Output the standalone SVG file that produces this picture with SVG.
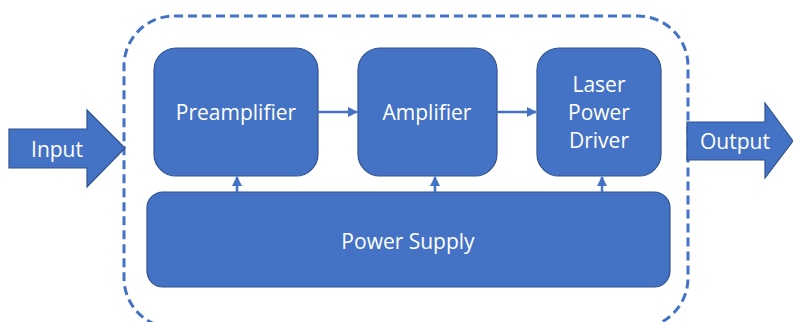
<svg xmlns="http://www.w3.org/2000/svg" width="793" height="322" viewBox="0 0 793 322">
<style>
.box{fill:#4472C4;stroke:#2F528F;stroke-width:1.2}
.t{fill:#fff;font-family:"Open Sans","Liberation Sans",sans-serif;font-size:21px;text-anchor:middle;dominant-baseline:central}
.c{stroke:#4472C4;stroke-width:2.5;fill:none}
</style>
<defs>
<marker id="ah" viewBox="0 0 10 10" refX="9" refY="5" markerWidth="4" markerHeight="4" orient="auto"><path d="M0,0 L10,5 L0,10 z" fill="#4472C4"/></marker>
</defs>
<rect x="0" y="0" width="793" height="322" fill="#fff"/>
<g id="boundary"><rect x="124" y="16" width="564" height="312" rx="50" fill="none" stroke="#4472C4" stroke-width="3" stroke-dasharray="9,5"/></g>
<g id="input"><path class="box" d="M9,129 H87 V110 L125,148 L87,187 V168 H9 Z" stroke="none"/><text class="t" x="57" y="149">Input</text></g>
<g id="output"><path class="box" d="M687,122 H765 V103 L793,141 L765,178 V160 H687 Z" stroke="none"/><text class="t" x="735" y="141">Output</text></g>
<g id="preamplifier"><rect class="box" x="154" y="48" width="164" height="128" rx="22"/><text class="t" x="236" y="112">Preamplifier</text></g>
<g id="amplifier"><rect class="box" x="358" y="48" width="139" height="128" rx="22"/><text class="t" x="427" y="112">Amplifier</text></g>
<g id="driver"><rect class="box" x="537" y="48" width="124" height="128" rx="22"/><text class="t" x="599" y="84">Laser</text><text class="t" x="599" y="112">Power</text><text class="t" x="599" y="140">Driver</text></g>
<g id="supply"><rect class="box" x="147" y="192" width="523" height="95" rx="16"/><text class="t" x="408" y="241">Power Supply</text></g>
<g id="connectors">
<line class="c" x1="318" y1="112" x2="357" y2="112" marker-end="url(#ah)"/>
<line class="c" x1="497" y1="112" x2="536" y2="112" marker-end="url(#ah)"/>
<line class="c" x1="237" y1="192" x2="237" y2="177" marker-end="url(#ah)"/>
<line class="c" x1="435" y1="192" x2="435" y2="177" marker-end="url(#ah)"/>
<line class="c" x1="602" y1="192" x2="602" y2="177" marker-end="url(#ah)"/>
</g>
</svg>
